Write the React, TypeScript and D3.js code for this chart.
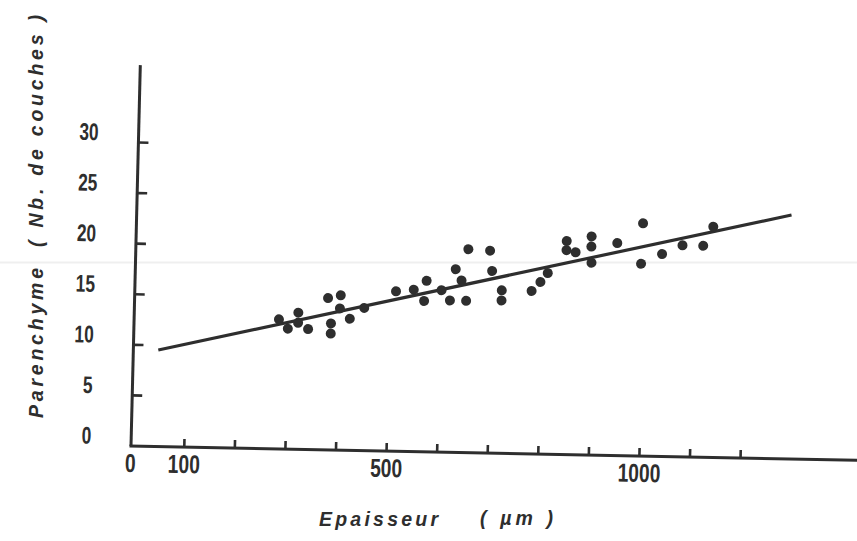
import React from "react";
import * as d3 from "d3";

// Thickness (µm) and number of parenchyma layers for each sample
const thickness = [
  281, 299, 319, 319, 339, 377, 402, 401, 384, 384, 421, 449, 511, 546, 567,
  571, 601, 618, 628, 640, 650, 652, 695, 700, 720, 720, 779, 796, 810, 846,
  846, 864, 895, 895, 896, 946, 996, 994, 1035, 1075, 1116, 1135,
];
const layers = [
  12.8, 11.9, 13.5, 12.5, 11.9, 15.0, 15.3, 14.0, 12.5, 11.5, 13.0, 14.1, 15.8,
  16.0, 14.9, 16.9, 16.0, 15.0, 18.1, 17.0, 15.0, 20.1, 20.0, 18.0, 16.1, 15.1,
  16.1, 17.0, 17.9, 21.1, 20.2, 20.0, 21.6, 20.6, 19.0, 21.0, 23.0, 19.0, 20.0,
  20.9, 20.9, 22.8,
];

// Regression line end points
const fitX = [44, 1289];
const fitY = [9.54, 24.11];

// Axis ticks and labels
const xTicks = [100, 200, 300, 400, 500, 600, 700, 800, 900, 1000, 1100, 1200];
const xLabelValues = [0, 100, 500, 1000];
const xLabelTexts = ["0", "100", "500", "1000"];
const yTicks = [5, 10, 15, 20, 25, 30];
const yLabelValues = [0, 5, 10, 15, 20, 25, 30];
const yLabelTexts = ["0", "5", "10", "15", "20", "25", "30"];

const W = 857;
const H = 541;
const INK = "#2e2e2e";
const FONT = "'Liberation Sans', Arial, sans-serif";

// slightly skewed frame of the hand-drawn axes
const alpha = (1.13 * Math.PI) / 180;
const beta = (1.4 * Math.PI) / 180;
const origin = [131, 446];

export default function App() {
  const x = d3.scaleLinear().domain([0, 1000]).range([2.7, 508.5]);
  const y = d3.scaleLinear().domain([0, 30]).range([0, -303.6]);

  const frame = `matrix(${Math.cos(alpha)},${Math.sin(alpha)},${-Math.sin(
    beta
  )},${Math.cos(beta)},${origin[0]},${origin[1]})`;

  const fitLine = d3
    .line<number>()
    .x((d) => x(fitX[d]))
    .y((d) => y(fitY[d]))([0, 1]);

  const titleStyle = {
    fontFamily: FONT,
    fontWeight: "bold" as const,
    fontStyle: "italic" as const,
    fontSize: 19.5,
    fill: INK,
  };

  return (
    <svg
      width={W}
      height={H}
      viewBox={`0 0 ${W} ${H}`}
      style={{ position: "absolute", left: 0, top: 0, background: "#fff" }}
    >
      <rect width={W} height={H} fill="#fff" />
      <line x1={0} x2={W} y1={262.5} y2={262.5} stroke="#efefef" strokeWidth={2} />

      <g transform={frame}>
        {/* axes */}
        <line x1={0} y1={0} x2={0} y2={-381} stroke={INK} strokeWidth={3} />
        <line x1={-1.5} y1={0} x2={740} y2={0} stroke={INK} strokeWidth={3} />

        {yTicks.map((t) => (
          <line key={`yt${t}`} x1={0} x2={10} y1={y(t)} y2={y(t)} stroke={INK} strokeWidth={2.6} />
        ))}
        {xTicks.map((t) => (
          <line key={`xt${t}`} x1={x(t)} x2={x(t)} y1={0} y2={-8} stroke={INK} strokeWidth={2.6} />
        ))}

        {yLabelValues.map((v, i) => (
          <text
            key={`yl${v}`}
            transform={`translate(-40,${y(v) - 1.5}) scale(0.72,1)`}
            textAnchor="end"
            fontFamily={FONT}
            fontWeight="bold"
            fontSize={24}
            fill={INK}
          >
            {yLabelTexts[i]}
          </text>
        ))}
        {xLabelValues.map((v, i) => (
          <text
            key={`xl${v}`}
            transform={`translate(${x(v) - (v === 0 ? 3 : 0)},26) scale(0.74,1)`}
            textAnchor="middle"
            fontFamily={FONT}
            fontWeight="bold"
            fontSize={26}
            fill={INK}
          >
            {xLabelTexts[i]}
          </text>
        ))}

        {/* fitted line */}
        <path d={fitLine ?? ""} stroke={INK} strokeWidth={3.2} fill="none" />

        {/* samples */}
        {thickness.map((t, i) => (
          <circle key={`p${i}`} cx={x(t)} cy={y(layers[i])} r={5} fill={INK} />
        ))}
      </g>

      {/* axis titles */}
      <text x={319} y={525.5} textLength={119} lengthAdjust="spacing" {...titleStyle}>
        Epaisseur
      </text>
      <text x={480} y={525} textLength={73} lengthAdjust="spacing" {...titleStyle}>
        ( µm )
      </text>
      <text
        transform="translate(43.3,418) rotate(-90)"
        textLength={150}
        lengthAdjust="spacing"
        {...titleStyle}
      >
        Parenchyme
      </text>
      <text
        transform="translate(43.3,247) rotate(-90)"
        textLength={232}
        lengthAdjust="spacing"
        {...titleStyle}
      >
        ( Nb. de couches )
      </text>
    </svg>
  );
}
